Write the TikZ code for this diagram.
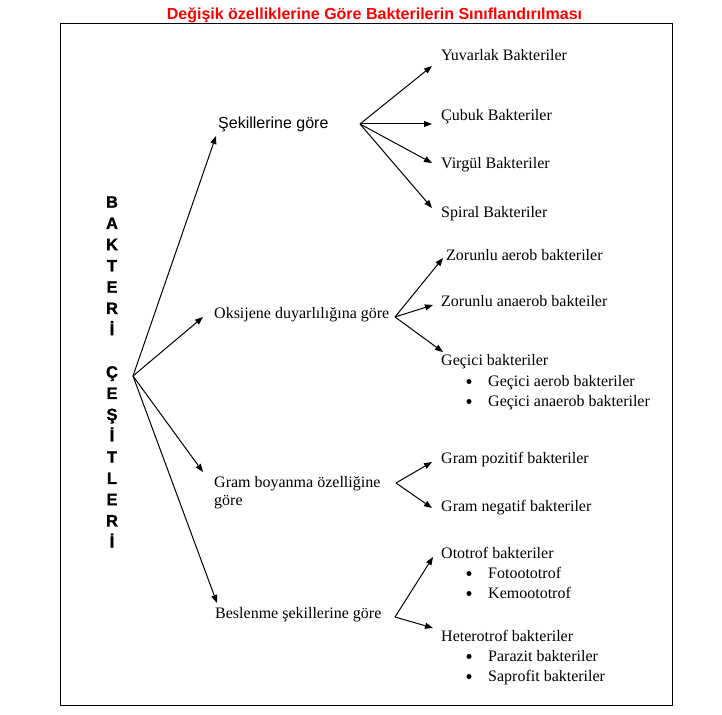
\documentclass[tikz,border=0pt]{standalone}
\usepackage{fontspec}
\setmainfont{Liberation Serif}
\setsansfont{Liberation Sans}
\newfontfamily\heavysans[FakeBold=1.2]{Liberation Sans Bold}
\usetikzlibrary{arrows.meta}
\begin{document}
\begin{tikzpicture}[x=1pt,y=-1pt,
  lbl/.style={anchor=base west,inner sep=0pt,font=\fontsize{16}{19}\selectfont},
  slbl/.style={anchor=base west,inner sep=0pt,font=\sffamily\fontsize{16}{19}\selectfont},
  bul/.style={circle,fill=black,inner sep=0pt,minimum size=5pt},
  vlet/.style={anchor=base,inner sep=0pt,font=\heavysans\fontsize{16.5}{19}\selectfont},
  ttl/.style={anchor=base,inner sep=0pt,text=red,font=\sffamily\bfseries\fontsize{16}{19}\selectfont},
  arr/.style={line width=1pt,-{Triangle[length=8pt,width=6pt]}},
  frame/.style={line width=1.2pt}]
\useasboundingbox (0,0) rectangle (722,714);
\draw[frame] (60.5,23.5) rectangle (672.5,705.5);
\node[ttl] (title) at (374.5,20) {Değişik özelliklerine Göre Bakterilerin Sınıflandırılması};
% vertical text
\foreach \c [count=\i from 0] in {B,A,K,T,E,R,İ}
  \node[vlet] (va\i) at (112,{207.7+21.25*\i}) {\c};
\foreach \c [count=\i from 8] in {Ç,E,Ş,İ,T,L,E,R,İ}
  \node[vlet] (vb\i) at (112,{207.7+21.25*\i}) {\c};
% categories
\node[slbl] (sek) at (218,129) {Şekillerine göre};
\node[lbl] (oks) at (214,318) {Oksijene duyarlılığına göre};
\node[lbl] (gram) at (214,487) {Gram boyanma özelliğine};
\node[lbl] (gram2) at (214,505) {göre};
\node[lbl] (bes) at (215,618) {Beslenme şekillerine göre};
% leaves
\node[lbl] (yuv) at (441,61) {Yuvarlak Bakteriler};
\node[lbl] (cub) at (441,121) {Çubuk Bakteriler};
\node[lbl] (vir) at (441,168) {Virgül Bakteriler};
\node[lbl] (spi) at (441,217) {Spiral Bakteriler};
\node[lbl] (zae) at (446,260) {Zorunlu aerob bakteriler};
\node[lbl] (zan) at (441,306) {Zorunlu anaerob bakteiler};
\node[lbl] (gec) at (441,365) {Geçici bakteriler};
\node[bul] (b1) at (469,381.5) {};
\node[lbl] (gae) at (488,386) {Geçici aerob bakteriler};
\node[bul] (b2) at (469,401.5) {};
\node[lbl] (gan) at (488,406) {Geçici anaerob bakteriler};
\node[lbl] (gpo) at (441,463) {Gram pozitif bakteriler};
\node[lbl] (gne) at (441,511) {Gram negatif bakteriler};
\node[lbl] (oto) at (441,558) {Ototrof bakteriler};
\node[bul] (b3) at (469,573.5) {};
\node[lbl] (fot) at (488,578) {Fotoototrof};
\node[bul] (b4) at (469,593.5) {};
\node[lbl] (kem) at (488,598) {Kemoototrof};
\node[lbl] (het) at (441,641) {Heterotrof bakteriler};
\node[bul] (b5) at (469,656.5) {};
\node[lbl] (par) at (488,661) {Parazit bakteriler};
\node[bul] (b6) at (469,676.5) {};
\node[lbl] (sap) at (488,681) {Saprofit bakteriler};
% connector points
\coordinate (root) at (133,376);
\coordinate (tsek) at (216,136);
\coordinate (toks) at (203,317);
\coordinate (tgram) at (203,472);
\coordinate (tbes) at (217,603);
\coordinate (fsek) at (360,124);
\coordinate (tyuv) at (432,66);
\coordinate (tcub) at (432,124);
\coordinate (tvir) at (432,163);
\coordinate (tspi) at (432,208);
\coordinate (foks) at (395,317);
\coordinate (tzae) at (443,258);
\coordinate (tzan) at (433,305);
\coordinate (tgec) at (443,352);
\coordinate (fgram) at (396,483);
\coordinate (tgpo) at (432,462);
\coordinate (tgne) at (432,508);
\coordinate (fbes) at (395,617);
\coordinate (toto) at (433,557);
\coordinate (thet) at (433,628);
% arrows
\foreach \t in {tsek,toks,tgram,tbes} \draw[arr] (root) -- (\t);
\foreach \t in {tyuv,tcub,tvir,tspi} \draw[arr] (fsek) -- (\t);
\foreach \t in {tzae,tzan,tgec} \draw[arr] (foks) -- (\t);
\foreach \t in {tgpo,tgne} \draw[arr] (fgram) -- (\t);
\foreach \t in {toto,thet} \draw[arr] (fbes) -- (\t);
\end{tikzpicture}
\end{document}
